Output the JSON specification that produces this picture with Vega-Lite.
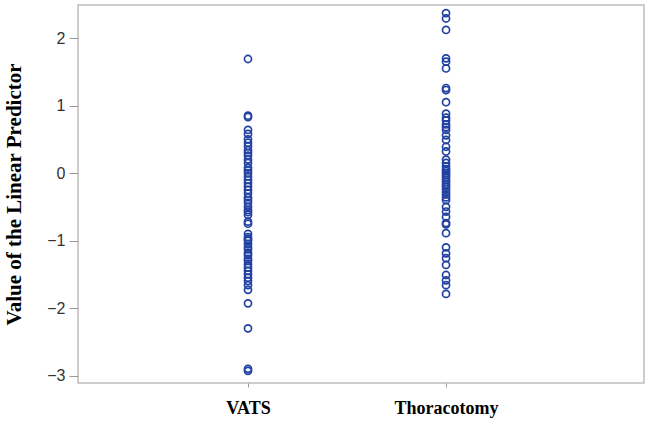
{
  "$schema": "https://vega.github.io/schema/vega-lite/v6.json",
  "autosize": "none",
  "padding": {"left": 78, "top": 5, "right": 6, "bottom": 54},
  "width": 566,
  "height": 378,
  "background": "white",
  "config": {
    "view": {"stroke": "#bdbdbd", "strokeWidth": 1.5},
    "axis": {"grid": false, "domain": false}
  },
  "datasets": {
    "VATS": [1.69, 0.85, 0.83, 0.64, 0.58, 0.5, 0.45, 0.4, 0.34, 0.3, 0.26, 0.2, 0.15, 0.08, 0.04, 0.0, -0.05, -0.1, -0.15, -0.2, -0.25, -0.3, -0.36, -0.4, -0.44, -0.5, -0.55, -0.58, -0.62, -0.72, -0.75, -0.9, -0.95, -0.98, -1.0, -1.05, -1.1, -1.13, -1.18, -1.22, -1.27, -1.3, -1.35, -1.4, -1.45, -1.5, -1.55, -1.6, -1.66, -1.73, -1.93, -2.3, -2.9, -2.93],
    "Thor": [2.37, 2.29, 2.12, 1.7, 1.65, 1.55, 1.26, 1.23, 1.05, 0.88, 0.82, 0.78, 0.72, 0.68, 0.64, 0.56, 0.49, 0.39, 0.32, 0.2, 0.15, 0.1, 0.06, 0.03, 0.0, -0.03, -0.06, -0.1, -0.13, -0.17, -0.2, -0.24, -0.28, -0.32, -0.36, -0.4, -0.5, -0.57, -0.65, -0.74, -0.76, -0.89, -1.1, -1.19, -1.26, -1.36, -1.51, -1.59, -1.66, -1.79]
  },
  "layer": [
    {
      "data": {"name": "VATS"},
      "transform": [{"calculate": "'VATS'", "as": "group"}],
      "mark": {"type": "point", "shape": "circle", "filled": false, "stroke": "#2242a2", "strokeWidth": 1.7, "size": 50, "opacity": 1},
      "encoding": {
        "x": {"field": "group", "type": "nominal"},
        "y": {"field": "data", "type": "quantitative"}
      }
    },
    {
      "data": {"name": "Thor"},
      "transform": [{"calculate": "'Thoracotomy'", "as": "group"}],
      "mark": {"type": "point", "shape": "circle", "filled": false, "stroke": "#2242a2", "strokeWidth": 1.7, "size": 50, "opacity": 1},
      "encoding": {
        "x": {
          "field": "group", "type": "nominal",
          "sort": ["VATS", "Thoracotomy"],
          "scale": {"type": "point", "domain": ["VATS", "Thoracotomy"], "padding": 0.929, "align": 0.462},
          "axis": {"title": null, "labelAngle": 0, "labelAlign": "center", "labelBaseline": "top", "labelFont": "Liberation Serif", "labelFontWeight": "bold", "labelFontSize": 18, "labelColor": "#000000", "tickSize": 4, "tickColor": "#9a9a9a", "labelPadding": 12}
        },
        "y": {
          "field": "data", "type": "quantitative",
          "scale": {"domain": [-3.11, 2.49], "nice": false, "zero": false},
          "axis": {
            "title": "Value of the Linear Predictor",
            "titleFont": "Liberation Serif", "titleFontWeight": "bold", "titleFontSize": 21, "titleColor": "#000000",
            "titleX": -64, "titleBaseline": "middle",
            "values": [-3, -2, -1, 0, 1, 2], "format": "d",
            "labelFont": "Liberation Sans", "labelFontSize": 16, "labelColor": "#333333",
            "tickSize": 9, "tickColor": "#9a9a9a", "labelPadding": 4
          }
        }
      }
    }
  ]
}
